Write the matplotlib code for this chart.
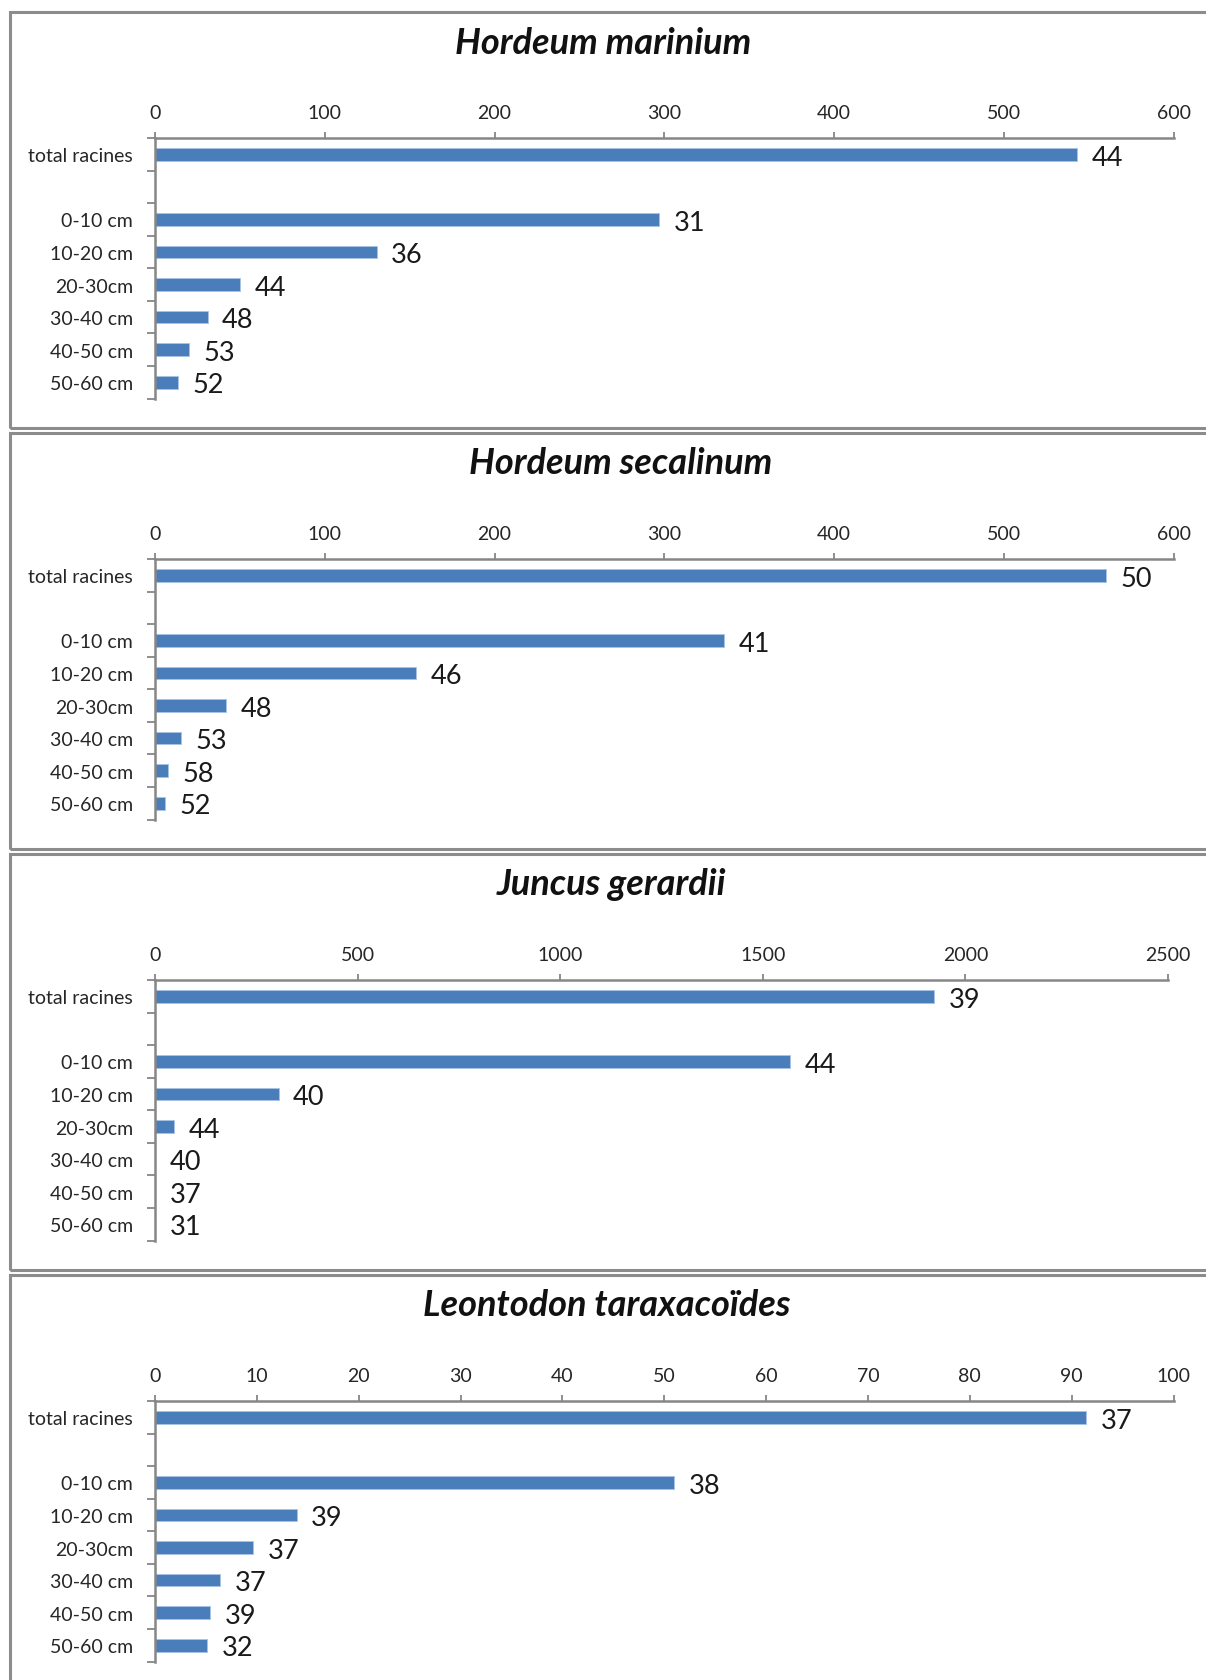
import numpy as np
import matplotlib.pyplot as plt
from matplotlib.patches import Rectangle

plt.rcParams['font.family'] = ['Lato', 'DejaVu Sans']

# Row labels, top to bottom; slot 1 is left empty between total and depths
categories = ["total racines", "0-10 cm", "10-20 cm", "20-30cm", "30-40 cm", "40-50 cm", "50-60 cm"]
slots = [0, 2, 3, 4, 5, 6, 7]

species = ["Hordeum marinium", "Hordeum secalinum", "Juncus gerardii", "Leontodon taraxacoïdes"]

# bar lengths per species
marinium_vals = [543, 297, 130.5, 50, 31, 20, 13.5]
secalinum_vals = [560, 335, 154, 42, 15.5, 7.6, 5.8]
gerardii_vals = [1922, 1567, 305, 46, 0, 0, 0]
leontodon_vals = [91.4, 51.0, 13.9, 9.6, 6.4, 5.4, 5.1]

# numbers printed next to each bar
marinium_n = [44, 31, 36, 44, 48, 53, 52]
secalinum_n = [50, 41, 46, 48, 53, 58, 52]
gerardii_n = [39, 44, 40, 44, 40, 37, 31]
leontodon_n = [37, 38, 39, 37, 37, 39, 32]

all_vals = [marinium_vals, secalinum_vals, gerardii_vals, leontodon_vals]
all_n = [marinium_n, secalinum_n, gerardii_n, leontodon_n]
x_max = [600, 600, 2500, 100]
x_step = [100, 100, 500, 10]

W, H = 1206, 1681
fig = plt.figure(figsize=(W / 100, H / 100), dpi=100)

grey = '#868686'
bar_color = '#4a7ebb'
title_x = [603, 621, 611, 607]

for i in range(4):
    top = 13 + i * 421
    right = 1168 if i == 2 else 1173.5

    # chart frame, running off the right edge
    fig.add_artist(Rectangle((10 / W, 1 - (top + 416) / H), 1.2, 416 / H,
                             transform=fig.transFigure, fill=False,
                             edgecolor='#8c8c8c', linewidth=2.2))
    fig.text(title_x[i] / W, 1 - (top + 30) / H, species[i], ha='center', va='center',
             fontsize=26, fontweight='bold', fontstyle='italic', color='#111111')

    ax = fig.add_axes([155 / W, 1 - (top + 386.5) / H, (right - 155) / W, 260.5 / H])
    ax.barh(slots, all_vals[i], height=0.39, color=bar_color,
            edgecolor='#a9c3e6', linewidth=0.6)
    for s, v, n in zip(slots, all_vals[i], all_n[i]):
        ax.annotate(str(n), (v, s), xytext=(10.5, -2), textcoords='offset points',
                    ha='left', va='center', fontsize=19.5, color='#1a1a1a')

    ax.set_xlim(0, x_max[i])
    ax.set_ylim(7.5, -0.5)
    ax.xaxis.tick_top()
    ax.set_xticks(np.arange(0, x_max[i] + x_step[i], x_step[i]))
    ax.tick_params(axis='x', direction='out', length=4, width=1.3, color=grey,
                   pad=8.5, labelsize=14, labelcolor='#262626')

    ax.set_yticks(slots)
    ax.set_yticklabels(categories)
    ax.set_yticks(np.arange(-0.5, 8, 1), minor=True)
    ax.tick_params(axis='y', which='major', length=0, pad=16, labelsize=14,
                   labelcolor='#262626')
    ax.tick_params(axis='y', which='minor', direction='out', length=6, width=1.3,
                   color=grey)

    for side in ['right', 'bottom']:
        ax.spines[side].set_visible(False)
    for side in ['top', 'left']:
        ax.spines[side].set_color(grey)
        ax.spines[side].set_linewidth(1.8)
    ax.patch.set_alpha(0)

fig.savefig('out.png', dpi=100)
